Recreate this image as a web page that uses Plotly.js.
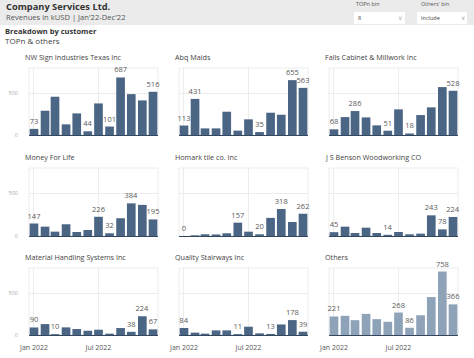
<!DOCTYPE html>
<html>
<head>
<meta charset="utf-8">
<script src="https://cdn.plot.ly/plotly-3.0.1.min.js"></script>
<style>html,body{margin:0;padding:0;background:#fff;}#chart{width:474px;height:358px;}</style>
</head>
<body>
<div id="chart"></div>
<script>
// ---- data ----
const months = ["2022-01-01","2022-02-01","2022-03-01","2022-04-01","2022-05-01","2022-06-01",
                "2022-07-01","2022-08-01","2022-09-01","2022-10-01","2022-11-01","2022-12-01"];
const customers = ["NW Sign Industries Texas Inc","Abq Maids","Falls Cabinet & Millwork Inc",
                   "Money For Life","Homark tile co. Inc","J S Benson Woodworking CO",
                   "Material Handling Systems Inc","Quality Stairways Inc","Others"];
const nwSign      = [73, 290, 457, 127, 258, 44, 377, 101, 687, 488, 413, 516];
const abqMaids    = [113, 431, 79, 79, 278, 52, 187, 35, 266, 242, 655, 563];
const fallsCab    = [68, 214, 286, 210, 115, 51, 306, 18, 238, 330, 572, 528];
const moneyLife   = [147, 110, 51, 138, 47, 71, 226, 32, 209, 384, 366, 195];
const homark      = [0, 8, 20, 18, 32, 157, 51, 20, 213, 318, 165, 262];
const jsBenson    = [45, 110, 35, 98, 35, 14, 47, 20, 28, 243, 78, 224];
const materialH   = [90, 130, 10, 91, 71, 51, 63, 16, 83, 38, 224, 67];
const qualityS    = [84, 28, 16, 55, 55, 11, 99, 20, 13, 126, 178, 39];
const others      = [221, 229, 177, 252, 189, 158, 268, 86, 236, 453, 758, 366];
const seriesList  = [nwSign, abqMaids, fallsCab, moneyLife, homark, jsBenson, materialH, qualityS, others];
// which months carry a value label (indexes)
const labelIdx = [
  [0,5,7,8,11],[0,1,7,10,11],[0,2,5,7,11],
  [0,6,7,9,11],[0,5,7,9,11],[0,5,9,10,11],
  [0,2,9,10,11],[0,5,8,10,11],[0,6,7,10,11]
];
const yTickVals = [0, 500];

// ---- layout helpers ----
const W = 474, H = 358, mL = 29, mR = 16, mT = 68, mB = 23;
const pw = W - mL - mR, ph = H - mT - mB;
const px = v => (v - mL) / pw;
const py = v => (H - mB - v) / ph;
const colX = [[29,158],[179,308],[329,458]];
const rowY = [[68,135],[168,236],[268,335]];

const data = [];
const layout = {
  width: W, height: H,
  margin: {l: mL, r: mR, t: mT, b: mB, pad: 0},
  paper_bgcolor: "#ffffff", plot_bgcolor: "#ffffff",
  font: {family: "Open Sans, sans-serif", color: "#444"},
  showlegend: false, bargap: 0.13,
  annotations: [], shapes: []
};

seriesList.forEach((vals, i) => {
  const r = Math.floor(i / 3), c = i % 3;
  const sfx = i === 0 ? "" : String(i + 1);
  const text = vals.map((v, k) => labelIdx[i].includes(k) ? String(v) : "");
  data.push({
    type: "bar", x: months, y: vals, text: text,
    xaxis: "x" + sfx, yaxis: "y" + sfx,
    marker: {color: i === 8 ? "#8ea2b8" : "#4b6584"},
    textposition: "outside", cliponaxis: false, constraintext: "none",
    textfont: {size: 7.5, color: "#5a5a5a"},
    hoverinfo: "x+y"
  });
  layout["xaxis" + sfx] = {
    domain: [px(colX[c][0]), px(colX[c][1])],
    anchor: "y" + sfx, type: "date",
    tick0: "2022-01-01", dtick: "M6", tickformat: "%b %Y",
    showticklabels: r === 2, ticks: "",
    ticklabelstandoff: 6,
    tickfont: {size: 7, color: "#555"},
    showgrid: true, gridcolor: "#ececec",
    showline: true, linecolor: "#33475e", linewidth: 1,
    zeroline: false, fixedrange: true
  };
  layout["yaxis" + sfx] = {
    domain: [py(rowY[r][1]), py(rowY[r][0])],
    anchor: "x" + sfx, range: [0, 800],
    tickvals: yTickVals, showticklabels: c === 0, ticks: "",
    ticklabelstandoff: 10,
    tickfont: {size: 5.5, color: "#aaa"},
    showgrid: true, gridcolor: "#ececec",
    zeroline: false, showline: false, fixedrange: true
  };
  // frame
  layout.shapes.push({type: "rect", xref: "x" + sfx + " domain", yref: "y" + sfx + " domain",
    x0: 0, x1: 1, y0: 0, y1: 1, line: {color: "#ececec", width: 1}, layer: "below"});
  // subplot title
  layout.annotations.push({text: customers[i], xref: "paper", yref: "paper",
    x: px(colX[c][0] - 6), y: py(rowY[r][0] - 11), xanchor: "left", yanchor: "middle",
    showarrow: false, font: {size: 7.2, color: "#444"}});
});

// header band and dropdowns
layout.shapes.push({type: "rect", xref: "paper", yref: "paper",
  x0: px(0), x1: px(W), y0: py(25), y1: py(0), fillcolor: "#ebebeb", line: {width: 0}, layer: "below"});
layout.shapes.push({type: "rect", xref: "paper", yref: "paper",
  x0: px(354), x1: px(405), y0: py(24), y1: py(12), fillcolor: "#ffffff", line: {width: 0}, layer: "below"});
layout.shapes.push({type: "rect", xref: "paper", yref: "paper",
  x0: px(417), x1: px(467), y0: py(24), y1: py(12), fillcolor: "#ffffff", line: {width: 0}, layer: "below"});

function note(t, x, y, size, color, bold) {
  layout.annotations.push({text: bold ? "<b>" + t + "</b>" : t, xref: "paper", yref: "paper",
    x: px(x), y: py(y), xanchor: "left", yanchor: "middle", showarrow: false,
    font: {size: size, color: color}});
}
note("Company Services Ltd.", 4, 6, 9.3, "#333", true);
note("Revenues in kUSD | Jan'22-Dec'22", 4, 17, 7.6, "#555", false);
note("TOPn bin", 354, 4, 5.5, "#555", false);
note("8", 356, 18, 5.5, "#444", false);
note("∨", 396, 18, 5.5, "#aaa", false);
note("Others' bin", 419, 4, 5.5, "#555", false);
note("Include", 419, 18, 5.5, "#444", false);
note("∨", 459, 18, 5.5, "#aaa", false);
note("Breakdown by customer", 3, 30.5, 7.5, "#333", true);
note("TOPn & others", 3, 41, 8, "#444", false);

Plotly.newPlot("chart", data, layout, {displayModeBar: false, staticPlot: true});
</script>
</body>
</html>
